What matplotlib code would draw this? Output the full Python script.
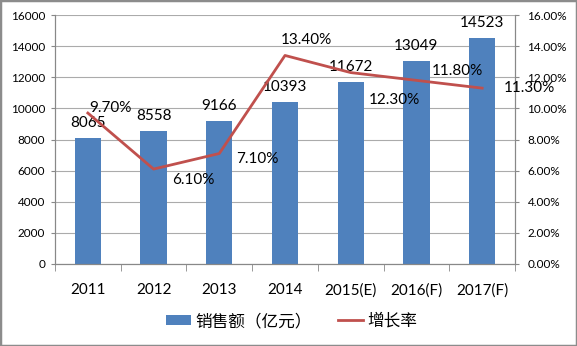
import matplotlib.pyplot as plt
from matplotlib.patches import Rectangle
from matplotlib.ticker import FuncFormatter

plt.rcParams['font.family'] = ['Lato', 'Noto Sans CJK SC', 'DejaVu Sans']

years = ['2011', '2012', '2013', '2014', '2015(E)', '2016(F)', '2017(F)']
sales = [8065, 8558, 9166, 10393, 11672, 13049, 14523]
growth = [9.7, 6.1, 7.1, 13.4, 12.3, 11.8, 11.3]

# where each growth label sits relative to its point, in pixels (dx, dy)
pct_offsets = [(1, 5), (19, -11), (17, -5), (-4, 15), (18, -27), (15, 9), (22, 0)]

bar_color = '#4F81BD'
line_color = '#C0504D'
grid_color = '#ababab'

fig = plt.figure(figsize=(5.77, 3.46), dpi=100)
ax = fig.add_axes([55 / 577, 1 - 264 / 346, 460 / 577, 249 / 346])
ax2 = ax.twinx()

x = list(range(len(years)))
ax.bar(x, sales, width=0.4, color=bar_color, zorder=2, label='销售额（亿元）')
ax.set_xlim(-0.5, len(years) - 0.5)
ax.set_ylim(0, 16000)
ax.set_yticks(range(0, 16001, 2000))
ax.grid(axis='y', color=grid_color, linewidth=0.8, zorder=0)
ax.set_axisbelow(True)

ax.set_xticks(x)
ax.set_xticklabels(years, fontsize=11)
ax.set_xticks([i - 0.5 for i in range(len(years) + 1)], minor=True)
ax.tick_params(axis='x', which='major', length=0, pad=14)
ax.tick_params(axis='x', which='minor', length=5, color='#888888', direction='out')
ax.tick_params(axis='y', length=3, color='#888888', labelsize=8.5, pad=4)

for xi, v in zip(x, sales):
    ax.annotate(str(v), (xi, v), xytext=(0, 15 * 0.72), textcoords='offset points',
                ha='center', va='center', fontsize=11, zorder=5)

ax2.plot(x, growth, color=line_color, linewidth=2, zorder=4, label='增长率')
ax2.set_ylim(0, 16)
ax2.set_yticks(range(0, 17, 2))
ax2.yaxis.set_major_formatter(FuncFormatter(lambda v, p: '%.2f%%' % v))
ax2.tick_params(axis='y', length=3, color='#888888', labelsize=8.5, pad=6)

for xi, g, (dx, dy) in zip(x, growth, pct_offsets):
    ax2.annotate('%.2f%%' % g, (xi, g), xytext=(dx * 0.72, dy * 0.72),
                 textcoords='offset points', ha='left', va='center',
                 fontsize=11, zorder=6, annotation_clip=False)

for a in (ax, ax2):
    a.spines['top'].set_visible(False)
    for s in ('left', 'right', 'bottom'):
        a.spines[s].set_color('#888888')
        a.spines[s].set_linewidth(0.8)

h1, l1 = ax.get_legend_handles_labels()
h2, l2 = ax2.get_legend_handles_labels()
fig.legend(h1 + h2, l1 + l2, loc='center', bbox_to_anchor=(0.505, 1 - 321 / 346),
           ncol=2, frameon=False, fontsize=12, handlelength=1.5, handleheight=0.6,
           handletextpad=0.25, columnspacing=1.6)

fig.patches.append(Rectangle((0, 0), 1, 1, transform=fig.transFigure, fill=False,
                             edgecolor='#8c8c8c', linewidth=2.5))

fig.savefig('out.png', dpi=100)
